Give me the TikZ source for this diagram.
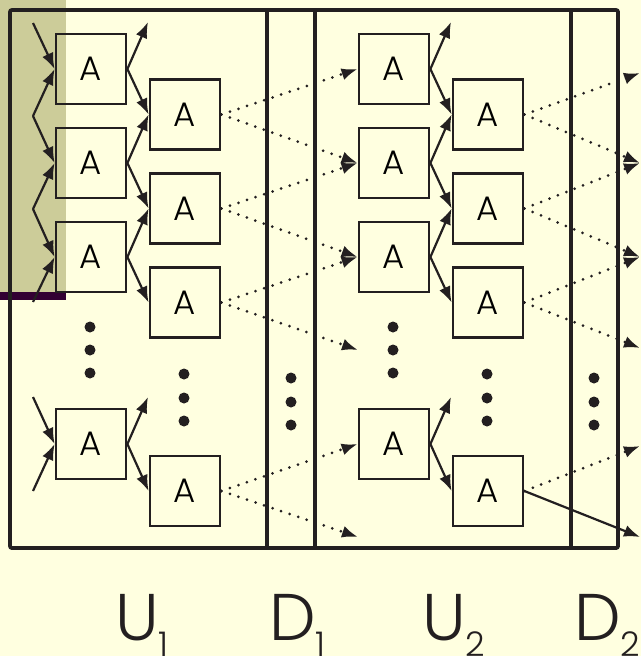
\documentclass[tikz,border=0pt]{standalone}
\usepackage{fontspec}
\setmainfont{Poppins Light}
\usetikzlibrary{arrows.meta,positioning}
\definecolor{paper}{HTML}{FFFFE0}
\definecolor{oliveband}{HTML}{CCCC99}
\definecolor{plumbar}{HTML}{330033}
\definecolor{ink}{HTML}{231F20}
\tikzset{node distance=21.2pt, auto,
  abox/.style={draw=ink, line width=2.8pt, minimum size=70pt, inner sep=0pt,
    font=\fontsize{34}{34}\selectfont},
  feed/.style={draw=ink, line width=2.2pt, -{Latex[length=16pt,width=12pt]}},
  link/.style={draw=ink, line width=3pt, line cap=round, dash pattern=on 0pt off 9pt,
    -{Latex[length=16pt,width=12pt]}},
  wall/.style={draw=ink, line width=3.8pt},
  lbl/.style={anchor=base west, inner sep=0pt, text=ink, font=\fontsize{66}{66}\selectfont}
}
\newcommand{\lsub}[1]{\raisebox{-16pt}{\fontsize{34}{34}\selectfont #1}}

\begin{document}
\begin{tikzpicture}[x=1pt,y=-1pt]
\useasboundingbox (0,0) rectangle (641,656);
\fill[paper] (0,0) rectangle (641,656);
\fill[oliveband] (0,0) rectangle (66,292);
\fill[plumbar] (0,292) rectangle (66,300);

% frame
\draw[wall, rounded corners=2pt] (10,10) rectangle (618,548);
\draw[wall] (267,10) -- (267,548) (315,10) -- (315,548) (571,10) -- (571,548);

% two layers of A cells
\foreach \u/\dx in {1/0,2/303} {
  \begin{scope}[xshift=\dx pt]
    \node[abox] (p\u1) at (91,69) {A};
    \node[abox, below=of p\u1] (p\u2) {A};
    \node[abox, below=of p\u2] (p\u3) {A};
    \node[abox] (p\u4) at (91,444) {A};
    \node[abox] (q\u1) at (185,114.5) {A};
    \node[abox, below=of q\u1] (q\u2) {A};
    \node[abox, below=of q\u2] (q\u3) {A};
    \node[abox] (q\u4) at (185,491) {A};
    \coordinate (t\u1) at (148,22);
    \coordinate (t\u4) at (148,397);
    \draw[feed] (p\u1.east) -- (t\u1);
    \draw[feed] (p\u4.east) -- (t\u4);
    \draw[feed] (p\u1.east) -- (q\u1.west);
    \draw[feed] (p\u2.east) -- (q\u1.west);
    \draw[feed] (p\u2.east) -- (q\u2.west);
    \draw[feed] (p\u3.east) -- (q\u2.west);
    \draw[feed] (p\u3.east) -- (q\u3.west);
    \draw[feed] (p\u4.east) -- (q\u4.west);
    % vertical dots
    \foreach \y in {327,350,373} \fill[ink] (90,\y) circle (5.5pt);
    \foreach \y in {374,398,421} \fill[ink] (184,\y) circle (5.5pt);
    \foreach \y in {378,402,425} \fill[ink] (291,\y) circle (5.5pt);
  \end{scope}
}

% inputs of the first layer
\foreach \y [count=\i] in {23,116,209,302,397,491}
  \coordinate (in\i) at (33,\y);
\draw[feed] (in1) -- (p11.west);
\draw[feed] (in2) -- (p11.west);
\draw[feed] (in2) -- (p12.west);
\draw[feed] (in3) -- (p12.west);
\draw[feed] (in3) -- (p13.west);
\draw[feed] (in4) -- (p13.west);
\draw[feed] (in5) -- (p14.west);
\draw[feed] (in6) -- (p14.west);

% first layer to second layer
\coordinate (m1) at (358,350);
\coordinate (m2) at (358,537);
\draw[link] (q11.east) -- (p21.west);
\draw[link] (q11.east) -- (p22.west);
\draw[link] (q12.east) -- (p22.west);
\draw[link] (q12.east) -- (p23.west);
\draw[link] (q13.east) -- (p23.west);
\draw[link] (q13.east) -- (m1);
\draw[link] (q14.east) -- (p24.west);
\draw[link] (q14.east) -- (m2);

% second layer outputs
\foreach \y [count=\i] in {73,163,257,348,446,537}
  \coordinate (o\i) at (640,\y);
\draw[link] (q21.east) -- (o1);
\draw[link] (q21.east) -- (o2);
\draw[link] (q22.east) -- (o2);
\draw[link] (q22.east) -- (o3);
\draw[link] (q23.east) -- (o3);
\draw[link] (q23.east) -- (o4);
\draw[link] (q24.east) -- (o5);
\draw[feed] (q24.east) -- (o6);

% labels
\node[lbl] (lu1) at (115,640) {U\lsub{1}};
\node[lbl] (ld1) at (269,640) {D\lsub{1}};
\node[lbl] (lu2) at (422,640) {U\lsub{2}};
\node[lbl] (ld2) at (574,640) {D\lsub{2}};
\end{tikzpicture}
\end{document}
